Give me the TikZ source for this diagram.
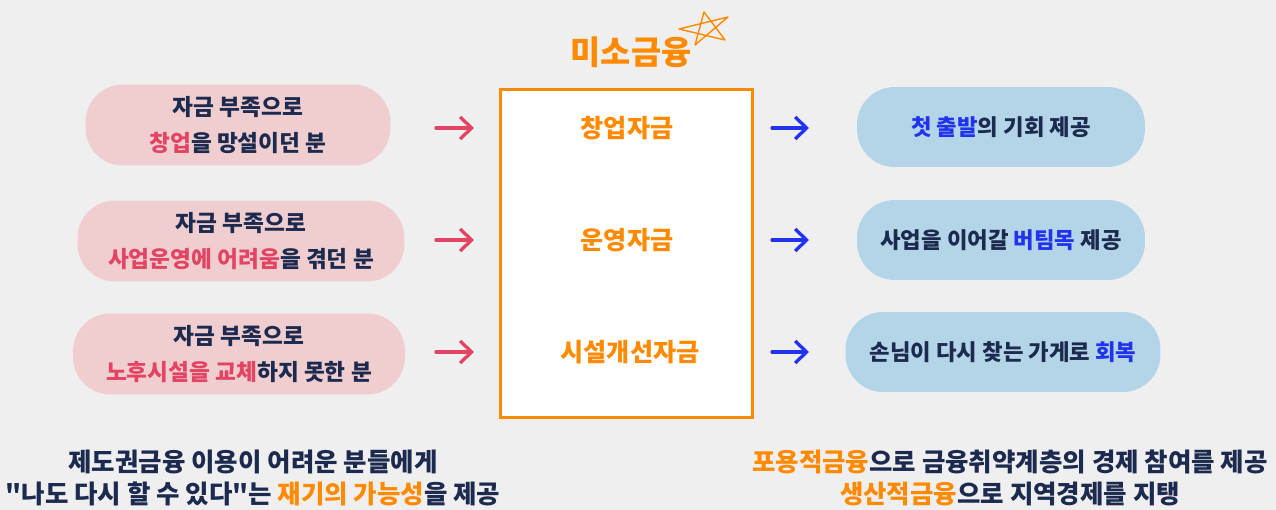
\documentclass[tikz,border=0pt]{standalone}
\usepackage{fontspec}
\setmainfont{Noto Sans CJK KR}[Ligatures=TeXOff]
\usepackage{tikz}
\usetikzlibrary{positioning}
\usetikzlibrary{arrows.meta}
\definecolor{bggray}{HTML}{EFEFEF}
\definecolor{navy}{HTML}{1B2A4E}
\definecolor{orangec}{HTML}{FF8A00}
\definecolor{rosec}{HTML}{E24463}
\definecolor{roseblob}{HTML}{F0CDCF}
\definecolor{bluec}{HTML}{2233EE}
\definecolor{blueblob}{HTML}{B4D5E8}
\tikzstyle{need} = [rectangle, rounded corners=0.75cm, fill=roseblob, text=navy, align=center, minimum height=1.62cm, font=\bfseries\fontsize{12.9}{21}\selectfont]
\tikzstyle{gain} = [rectangle, rounded corners=0.75cm, fill=blueblob, text=navy, align=center, minimum height=1.6cm, font=\bfseries\fontsize{12.7}{21}\selectfont]
\tikzstyle{fund} = [text=orangec, font=\bfseries\fontsize{14.3}{16}\selectfont]
\tikzstyle{summary} = [text=navy, align=center, font=\bfseries\fontsize{14.5}{18.7}\selectfont]
\tikzstyle{inarrow}  = [draw=rosec, line width=1.9pt, line cap=round, -{Straight Barb[length=6.5pt,width=12.5pt]}]
\tikzstyle{outarrow} = [draw=bluec, line width=1.9pt, line cap=round, -{Straight Barb[length=6.5pt,width=12.5pt]}]

\begin{document}
\begin{tikzpicture}[x=0.02cm, y=-0.02cm]
	\fill [bggray] (0,0) rectangle (1276,510);
	\useasboundingbox (0,0) rectangle (1276,510);

	% title and star
	\node [text=orangec, font=\bfseries\fontsize{18.7}{20}\selectfont] (T) at (631,52) {미소금융};
	\draw [orangec, line width=0.8pt, line join=round] (679,29) -- (728,17) -- (695,45) -- (704,12) -- (725,40) -- cycle;

	% funds box
	\node [draw=orangec, line width=1.7pt, fill=white, minimum width=5.06cm, minimum height=6.58cm] (B) at (626.5,253.5) {};
	\node [fund] (F1) at (627,128) {창업자금};
	\node [fund] (F2) at (627,240) {운영자금};
	\node [fund] (F3) at (630,352) {시설개선자금};

	% place nodes
	\node [need, minimum width=6.1cm]  (P1) at (238,125) {자금 부족으로\\{\color{rosec}창업}을 망설이던 분};
	\node [need, minimum width=6.54cm] (P2) at (241,241) {자금 부족으로\\{\color{rosec}사업운영에 어려움}을 겪던 분};
	\node [need, minimum width=6.64cm] (P3) at (239,354) {자금 부족으로\\{\color{rosec}노후시설을 교체}하지 못한 분};

	\node [gain, minimum width=5.76cm] (G1) at (1001,127) {{\color{bluec}첫 출발}의 기회 제공};
	\node [gain, minimum width=5.76cm] (G2) at (1001,240) {사업을 이어갈 {\color{bluec}버팀목} 제공};
	\node [gain, minimum width=6.3cm]  (G3) at (1003,352) {손님이 다시 찾는 가게로 {\color{bluec}회복}};

	% arrow ends
	\coordinate (La) at (436,0);
	\coordinate (Lb) at (474,0);
	\coordinate (Ra) at (772,0);
	\coordinate (Rb) at (809,0);

	% draw edges
	\foreach \i in {1,2,3} {
		\path [inarrow]  (La |- F\i) -- (Lb |- F\i);
		\path [outarrow] (Ra |- F\i) -- (Rb |- F\i);
	}

	% bottom lines
	\node [summary] (S1) at (253,478) {제도권금융 이용이 어려운 분들에게\\"나도 다시 할 수 있다"는 {\color{orangec}재기의 가능성}을 제공};
	\node [summary] (S2) at (1010,478) {{\color{orangec}포용적금융}으로 금융취약계층의 경제 참여를 제공\\{\color{orangec}생산적금융}으로 지역경제를 지탱};
\end{tikzpicture}
\end{document}
